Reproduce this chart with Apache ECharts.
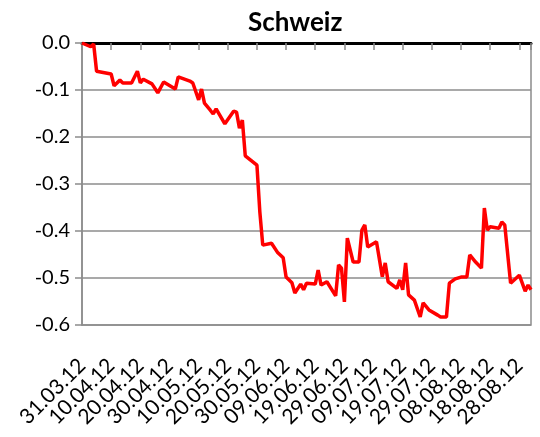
<!DOCTYPE html>
<html>
<head>
<meta charset="utf-8">
<script src="https://cdn.jsdelivr.net/npm/echarts@6/dist/echarts.min.js"></script>
<style>
  html, body { margin: 0; padding: 0; background: #fff; }
  #u4 { width: 540px; height: 437px; }
</style>
</head>
<body>
<div id="u4"></div>
<script>
// Datum (dd.mm.yy) und Wert
var dates = ['31.03.12', '03.04.12', '04.04.12', '05.04.12', '10.04.12', '11.04.12', '13.04.12', '14.04.12',
  '17.04.12', '19.04.12', '20.04.12', '21.04.12', '24.04.12', '26.04.12', '28.04.12', '02.05.12', '03.05.12',
  '07.05.12', '08.05.12', '10.05.12', '11.05.12', '12.05.12', '14.05.12', '15.05.12', '16.05.12', '19.05.12',
  '22.05.12', '23.05.12', '24.05.12', '25.05.12', '26.05.12', '30.05.12', '31.05.12', '01.06.12', '04.06.12',
  '06.06.12', '08.06.12', '09.06.12', '11.06.12', '12.06.12', '14.06.12', '15.06.12', '16.06.12', '19.06.12',
  '20.06.12', '21.06.12', '23.06.12', '26.06.12', '27.06.12', '28.06.12', '29.06.12', '30.06.12', '02.07.12',
  '04.07.12', '05.07.12', '06.07.12', '07.07.12', '10.07.12', '12.07.12', '13.07.12', '14.07.12', '17.07.12',
  '18.07.12', '19.07.12', '20.07.12', '21.07.12', '23.07.12', '25.07.12', '26.07.12', '28.07.12', '31.07.12',
  '01.08.12', '03.08.12', '04.08.12', '06.08.12', '08.08.12', '10.08.12', '11.08.12', '13.08.12', '15.08.12',
  '16.08.12', '17.08.12', '18.08.12', '21.08.12', '22.08.12', '23.08.12', '25.08.12', '28.08.12', '30.08.12',
  '31.08.12', '01.09.12'];
var values = [0.000, -0.008, -0.002, -0.060, -0.066, -0.091, -0.079, -0.085,
  -0.085, -0.060, -0.085, -0.077, -0.087, -0.106, -0.083, -0.098, -0.072,
  -0.081, -0.085, -0.121, -0.098, -0.128, -0.143, -0.151, -0.140, -0.172,
  -0.145, -0.147, -0.181, -0.164, -0.240, -0.260, -0.360, -0.430, -0.426,
  -0.445, -0.457, -0.498, -0.510, -0.532, -0.513, -0.525, -0.511, -0.513,
  -0.483, -0.515, -0.508, -0.538, -0.472, -0.479, -0.551, -0.415, -0.466,
  -0.466, -0.398, -0.387, -0.434, -0.423, -0.497, -0.468, -0.508, -0.522,
  -0.504, -0.525, -0.468, -0.536, -0.547, -0.583, -0.553, -0.568, -0.579,
  -0.583, -0.583, -0.511, -0.502, -0.498, -0.498, -0.451, -0.466, -0.479,
  -0.351, -0.398, -0.391, -0.394, -0.381, -0.387, -0.511, -0.494, -0.528,
  -0.515, -0.525];
// x-Achse: Beschriftung alle 10 Tage
var tickLabels = ['31.03.12', '10.04.12', '20.04.12', '30.04.12', '10.05.12', '20.05.12', '30.05.12', '09.06.12',
  '19.06.12', '29.06.12', '09.07.12', '19.07.12', '29.07.12', '08.08.12', '18.08.12', '28.08.12'];
var lastDay = 154;

var start = Date.UTC(2012, 2, 31);
function dayIndex(s) {
  var p = s.split('.');
  return Math.round((Date.UTC(2000 + Number(p[2]), Number(p[1]) - 1, Number(p[0])) - start) / 86400000);
}
var points = dates.map(function (d, i) { return [dayIndex(d), values[i]]; });
// eine Kategorie pro Tag, nur jeder 10. beschriftet
var dayCats = [];
for (var i = 0; i <= lastDay; i++) dayCats.push(i % 10 === 0 ? (tickLabels[i / 10] || '') : '');

var font = 'Lato, "Open Sans", sans-serif';
var grey = '#8c8c8c';

let myChart1 = echarts.init(document.getElementById('u4'));
var option = {
  animation: false,
  title: {
    text: 'Schweiz',
    left: 243,
    top: 5,
    textStyle: { fontFamily: font, fontWeight: 'bold', fontSize: 26, color: '#000' }
  },
  grid: {
    left: 82, right: 9, top: 43, bottom: 112,
    show: true, borderColor: grey, borderWidth: 1.5, backgroundColor: '#fff'
  },
  xAxis: [
    {
      // Beschriftung unten
      type: 'category', data: dayCats, boundaryGap: false, position: 'bottom',
      axisLine: { show: false }, axisTick: { show: false }, splitLine: { show: false },
      axisLabel: {
        interval: 0, rotate: 45, margin: 37, color: '#000', fontFamily: font, fontSize: 21
      }
    },
    {
      // schwarze Achse bei 0
      type: 'value', min: 0, max: lastDay, interval: 10, position: 'top',
      axisLine: { show: true, lineStyle: { color: '#000', width: 3 } },
      axisTick: { show: true, inside: true, length: 7, lineStyle: { color: grey, width: 1.5 } },
      axisLabel: { show: false }, splitLine: { show: false }
    }
  ],
  yAxis: {
    type: 'value', min: -0.6, max: 0, interval: 0.1,
    axisLine: { show: true, lineStyle: { color: grey, width: 1.5 } },
    axisTick: { show: true, length: 7, lineStyle: { color: grey, width: 1.5 } },
    splitLine: { show: true, lineStyle: { color: grey, width: 1.5 } },
    axisLabel: {
      margin: 12, color: '#000', fontFamily: font, fontSize: 20,
      formatter: function (v) { return v.toFixed(1); }
    }
  },
  series: [
    {
      name: 'Schweiz',
      type: 'line',
      xAxisIndex: 1,
      data: points,
      showSymbol: false,
      lineStyle: { color: '#ff0000', width: 3.5 },
      itemStyle: { color: '#ff0000' },
      z: 5
    }
  ]
};

myChart1.setOption(option);
</script>
</body>
</html>
